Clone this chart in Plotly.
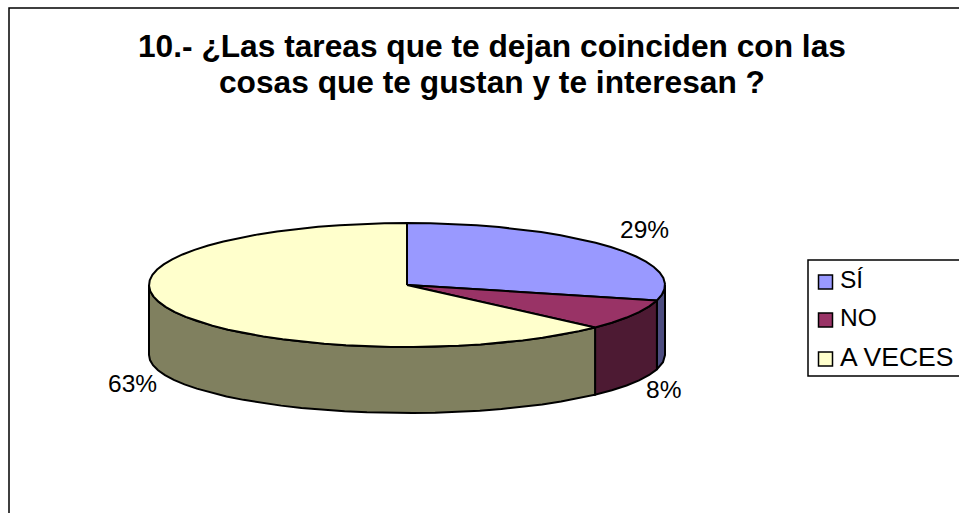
"""
Draws the tilted pie chart of the survey answers using plotly
"""

import numpy as np
import plotly.graph_objects as go

title_lines = ["10.- ¿Las tareas que te dejan coinciden con las", "cosas que te gustan y te interesan ?"]
categories = ["SÍ", "NO", "A VECES"]
values = [29, 8, 63]
top_colours = ["#9999FF", "#993366", "#FFFFCC"]
side_colours = ["#4D4D80", "#4D1A33", "#80805F"]

CX, CY = 407, 285
RX, RY = 258, 62
BOTTOM_CY, BOTTOM_RY = 355, 58
FONT = "Liberation Sans"


def arc(start, end, cy, ry):
    # angles are clockwise from the top of the ellipse
    n = max(int(abs(end - start) / 5), 1)
    t = np.radians(np.linspace(start, end, n + 1))
    return CX + RX * np.sin(t), cy - ry * np.cos(t)


def polygon(x, y, colour):
    return go.Scatter(x=x, y=y, mode="lines", fill="toself", fillcolor=colour,
                      line=dict(color="black", width=2), hoverinfo="skip", showlegend=False)


totals = np.cumsum(values) / sum(values) * 360
starts = np.concatenate([[0], totals[:-1]])

fig = go.Figure()

# side walls first, only the part facing the viewer
for a, b, colour in zip(starts, totals, side_colours):
    a, b = max(a, 90), min(b, 270)
    if a < b:
        x1, y1 = arc(a, b, CY, RY)
        x2, y2 = arc(b, a, BOTTOM_CY, BOTTOM_RY)
        fig.add_trace(polygon(np.r_[x1, x2, x1[0]], np.r_[y1, y2, y1[0]], colour))

# top faces
for a, b, colour in zip(starts, totals, top_colours):
    x, y = arc(a, b, CY, RY)
    fig.add_trace(polygon(np.r_[CX, x, CX], np.r_[CY, y, CY], colour))

# legend swatches and their texts
legend_y = [282, 320, 359]
fig.add_trace(go.Scatter(x=[825.5] * 3, y=legend_y, mode="markers",
                         marker=dict(symbol="square", size=14, color=top_colours,
                                     line=dict(color="black", width=1.5)),
                         hoverinfo="skip", showlegend=False))
fig.add_trace(go.Scatter(x=[840] * 3, y=legend_y, mode="text", text=categories,
                         textposition="middle right",
                         textfont=dict(family=FONT, size=[24.5, 24.5, 26.5], color="black"),
                         hoverinfo="skip", showlegend=False))

# slice labels
label_x = [644, 663, 132]
label_y = [229, 389.5, 383]
for x, y, v in zip(label_x, label_y, values):
    fig.add_annotation(x=x, y=y, text=f"{v}%", showarrow=False,
                       font=dict(family=FONT, size=24.5, color="black"))

for y, line in zip([45.5, 81.5], title_lines):
    fig.add_annotation(x=492, y=y, text=f"<b>{line}</b>", showarrow=False,
                       font=dict(family=FONT, size=31.7, color="black"))

fig.update_layout(
    width=959, height=513, margin=dict(l=0, r=0, t=0, b=0),
    paper_bgcolor="white", plot_bgcolor="white", showlegend=False,
    xaxis=dict(range=[0, 959], visible=False, fixedrange=True),
    yaxis=dict(range=[513, 0], visible=False, fixedrange=True),
    shapes=[
        dict(type="rect", x0=9, y0=8, x1=975, y1=530, line=dict(color="black", width=1.5)),
        dict(type="rect", x0=808, y0=260, x1=975, y1=376, line=dict(color="black", width=1.5)),
    ],
)

fig.write_html("out.html", config=dict(displayModeBar=False),
               post_script="document.body.style.margin='0';")
